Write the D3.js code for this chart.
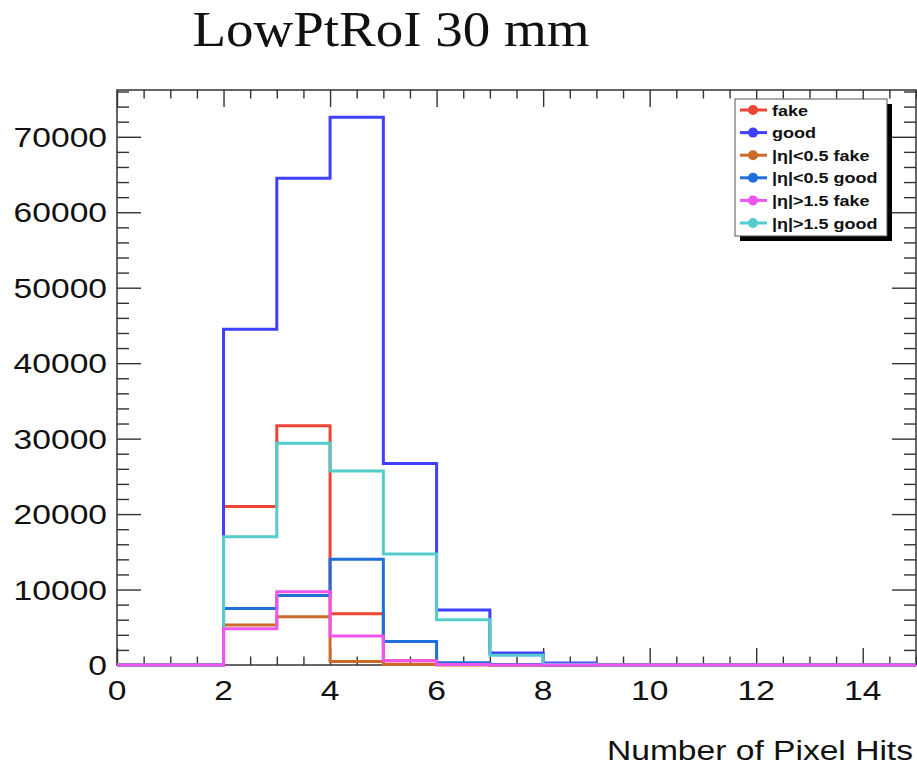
<!DOCTYPE html>
<html>
<head>
<meta charset="utf-8">
<script src="https://cdn.jsdelivr.net/npm/d3@7"></script>
<style>
  body { margin: 0; background: #fff; }
  svg { display: block; }
</style>
</head>
<body>
<div id="chart"></div>
<script>
// dane histogramow (biny 0..15, szerokosc 1)
var binEdges = d3.range(0, 16);
var fake        = [0, 0, 21000, 31700, 6800, 550, 50, 0, 0, 0, 0, 0, 0, 0, 0];
var good        = [0, 0, 44500, 64500, 72600, 26700, 7300, 1600, 250, 30, 0, 0, 0, 0, 0];
var etaLowFake  = [0, 0, 5300, 6400, 450, 60, 0, 0, 0, 0, 0, 0, 0, 0, 0];
var etaLowGood  = [0, 0, 7500, 9200, 14000, 3100, 300, 50, 0, 0, 0, 0, 0, 0, 0];
var etaHighFake = [0, 0, 4800, 9700, 3850, 550, 60, 0, 0, 0, 0, 0, 0, 0, 0];
var etaHighGood = [0, 0, 17000, 29400, 25700, 14700, 6000, 1300, 100, 0, 0, 0, 0, 0, 0];

var seriesNames = ["fake", "good", "|\u03b7|<0.5 fake", "|\u03b7|<0.5 good", "|\u03b7|>1.5 fake", "|\u03b7|>1.5 good"];
var seriesColors = ["#ee4433", "#3f3fff", "#cc6a2a", "#1f6fd8", "#ee55ee", "#55cccc"];
var seriesData = [fake, good, etaLowFake, etaLowGood, etaHighFake, etaHighGood];
var drawOrder = [0, 1, 2, 3, 5, 4];

var xTicks = [0, 2, 4, 6, 8, 10, 12, 14];
var yTicks = [0, 10000, 20000, 30000, 40000, 50000, 60000, 70000];

var width = 917, height = 768;
// uwaga: "top" to zmienna okna, wiec inne nazwy
var padL = 117, padR = 916, padT = 90, padB = 665;
var stretch = 1.2;

var svg = d3.select("#chart").append("svg")
  .attr("width", width)
  .attr("height", height);

var x = d3.scaleLinear().domain([0, 15]).range([padL, padR]);
var y = d3.scaleLinear().domain([0, 76200]).range([padB, padT]);

// tytul
svg.append("text")
  .attr("transform", "translate(391,46) scale(1.1,1)")
  .attr("text-anchor", "middle")
  .style("font-family", "'Liberation Serif', serif")
  .style("font-size", "50px")
  .style("fill", "#111")
  .text("LowPtRoI 30 mm");

// ramka
svg.append("rect")
  .attr("x", padL).attr("y", padT)
  .attr("width", padR - padL).attr("height", padB - padT)
  .style("fill", "none")
  .style("stroke", "#333")
  .style("stroke-width", 1.5);

var xMinor = d3.range(0, 15.01, 0.5).filter(function (d) { return d % 2 !== 0; });
var yMinor = d3.range(0, 76200, 2000).filter(function (d) { return d % 10000 !== 0; });

function addAxis(axis, tr) {
  var g = svg.append("g").attr("transform", tr).call(axis);
  g.select(".domain").remove();
  g.selectAll("line").style("stroke", "#333").style("stroke-width", 1.4);
  g.selectAll("text").remove();
}

// osie - podzialki do srodka
addAxis(d3.axisBottom(x).tickValues(xTicks).tickSize(-17), "translate(0," + padB + ")");
addAxis(d3.axisBottom(x).tickValues(xMinor).tickSize(-8.5), "translate(0," + padB + ")");
addAxis(d3.axisTop(x).tickValues(xTicks).tickSize(-17), "translate(0," + padT + ")");
addAxis(d3.axisTop(x).tickValues(xMinor).tickSize(-8.5), "translate(0," + padT + ")");
addAxis(d3.axisLeft(y).tickValues(yTicks).tickSize(-24), "translate(" + padL + ",0)");
addAxis(d3.axisLeft(y).tickValues(yMinor).tickSize(-12), "translate(" + padL + ",0)");
addAxis(d3.axisRight(y).tickValues(yTicks).tickSize(-24), "translate(" + padR + ",0)");
addAxis(d3.axisRight(y).tickValues(yMinor).tickSize(-12), "translate(" + padR + ",0)");

// histogramy
var line = d3.line()
  .x(function (d) { return x(d[0]); })
  .y(function (d) { return y(d[1]); });

drawOrder.forEach(function (i) {
  var vals = seriesData[i];
  var pts = [];
  vals.forEach(function (v, b) {
    pts.push([binEdges[b], v]);
    pts.push([binEdges[b + 1], v]);
  });
  svg.append("path")
    .datum(pts)
    .attr("d", line)
    .style("fill", "none")
    .style("stroke", seriesColors[i])
    .style("stroke-width", 3)
    .style("stroke-linejoin", "miter");
});

// etykiety osi
var labelFont = "'Liberation Sans', Arial, sans-serif";
svg.selectAll(".xlab")
  .data(xTicks)
  .enter()
  .append("text")
  .attr("class", "xlab")
  .attr("transform", function (d) { return "translate(" + x(d) + ",700) scale(" + stretch + ",1)"; })
  .attr("text-anchor", "middle")
  .style("font-family", labelFont)
  .style("font-size", "28px")
  .style("fill", "#111")
  .text(function (d) { return d; });

svg.selectAll(".ylab")
  .data(yTicks)
  .enter()
  .append("text")
  .attr("class", "ylab")
  .attr("transform", function (d) { return "translate(107," + (y(d) + 10) + ") scale(" + stretch + ",1)"; })
  .attr("text-anchor", "end")
  .style("font-family", labelFont)
  .style("font-size", "28px")
  .style("fill", "#111")
  .text(function (d) { return d; });

svg.append("text")
  .attr("transform", "translate(913,760) scale(" + stretch + ",1)")
  .attr("text-anchor", "end")
  .style("font-family", labelFont)
  .style("font-size", "28px")
  .style("fill", "#111")
  .text("Number of Pixel Hits");

// legenda
var lg = svg.append("g");
lg.append("rect")
  .attr("x", 740).attr("y", 104)
  .attr("width", 152).attr("height", 137)
  .style("fill", "#000");
lg.append("rect")
  .attr("x", 735).attr("y", 99)
  .attr("width", 152).attr("height", 137)
  .style("fill", "#fff")
  .style("stroke", "#555")
  .style("stroke-width", 1);

var rowY = d3.scaleLinear().domain([0, 5]).range([110, 223]);

seriesNames.forEach(function (name, i) {
  var yy = rowY(i);
  lg.append("line")
    .attr("x1", 740).attr("x2", 767)
    .attr("y1", yy).attr("y2", yy)
    .style("stroke", seriesColors[i])
    .style("stroke-width", 3);
  lg.append("circle")
    .attr("cx", 753).attr("cy", yy).attr("r", 5)
    .style("fill", seriesColors[i]);
  lg.append("text")
    .attr("transform", "translate(772," + (yy + 5.5) + ") scale(" + stretch + ",1)")
    .style("font-family", labelFont)
    .style("font-weight", "bold")
    .style("font-size", "15px")
    .style("fill", "#111")
    .text(name);
});
</script>
</body>
</html>
